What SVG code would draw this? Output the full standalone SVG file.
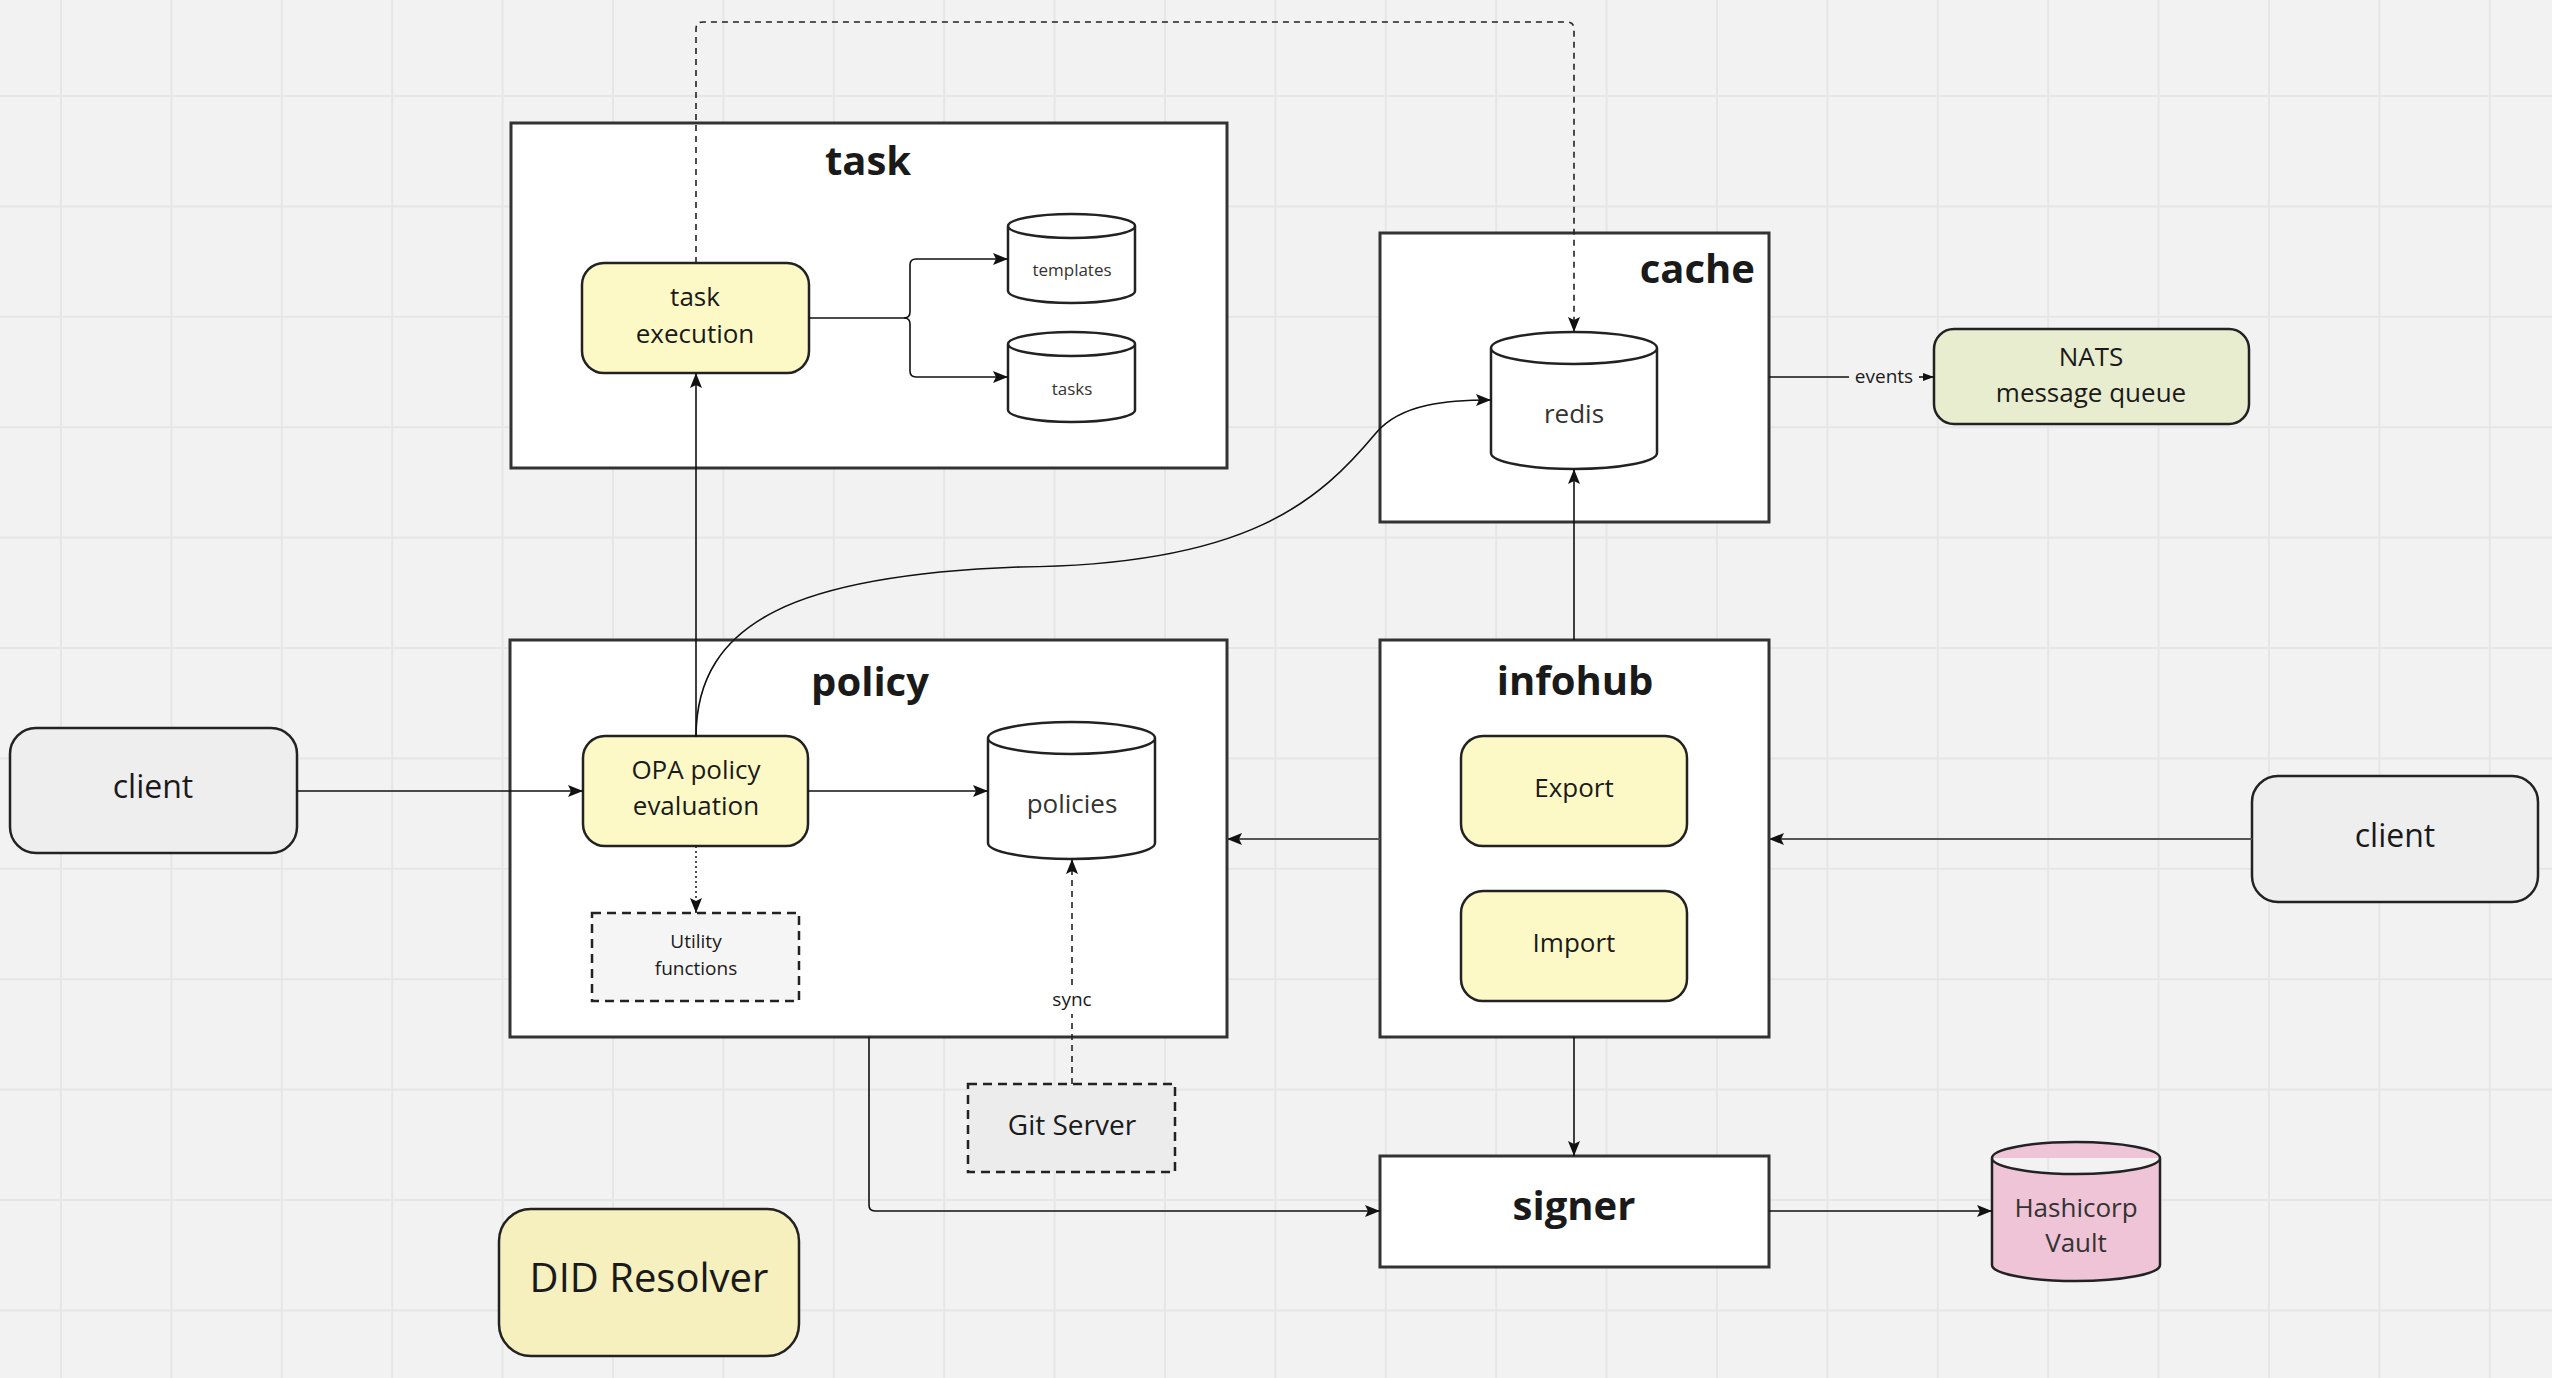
<svg xmlns="http://www.w3.org/2000/svg" width="2552" height="1378" viewBox="0 0 2552 1378">
<defs>
<pattern id="grid" x="60" y="95" width="110.4" height="110.4" patternUnits="userSpaceOnUse">
<path d="M1,0 V110.4 M0,1 H110.4" stroke="#e6e6e6" stroke-width="2" fill="none"/>
</pattern>
<marker id="arr" markerUnits="userSpaceOnUse" markerWidth="16" markerHeight="12" refX="15" refY="6" orient="auto">
<path d="M0,0 L15,6 L0,12 L3,6 z" fill="#111"/>
</marker>
<marker id="arrs" markerUnits="userSpaceOnUse" markerWidth="12" markerHeight="8" refX="11" refY="4" orient="auto">
<path d="M0,0 L11,4 L0,8 z" fill="#111"/>
</marker>
<style>
.box{fill:#fff;stroke:#333;stroke-width:3}
.proc{fill:#fdf9c6;stroke:#222;stroke-width:2.5}
.cyl{fill:#fff;stroke:#222;stroke-width:2.5}
.conn{fill:none;stroke:#111;stroke-width:1.6}
.dash{fill:none;stroke:#222;stroke-width:1.6;stroke-dasharray:6 5}
.dot{fill:none;stroke:#222;stroke-width:1.6;stroke-dasharray:2 3}
.title{font-family:"Open Sans","Liberation Sans",sans-serif;font-weight:bold;font-size:40px;fill:#1a1a1a}
.t26{font-family:"Open Sans","Liberation Sans",sans-serif;font-size:26px;fill:#1a1a1a;text-anchor:middle}
.t17{font-family:"Open Sans","Liberation Sans",sans-serif;font-size:17px;fill:#333;text-anchor:middle}
.t19{font-family:"Open Sans","Liberation Sans",sans-serif;font-size:19px;fill:#1a1a1a;text-anchor:middle}
.cyltext{font-family:"Open Sans","Liberation Sans",sans-serif;font-size:26px;fill:#333;text-anchor:middle}
</style>
</defs>
<rect width="2552" height="1378" fill="#f2f2f2"/>
<rect width="2552" height="1378" fill="url(#grid)"/>

<g id="task">
<rect class="box" x="511" y="123" width="716" height="345"/>
<text class="title" x="868" y="175" text-anchor="middle">task</text>
</g>
<g id="task-execution">
<rect class="proc" x="582" y="263" width="227" height="110" rx="22"/>
<text class="t26" x="695" y="306">task</text>
<text class="t26" x="695" y="343">execution</text>
</g>
<g id="templates">
<path class="cyl" d="M1008,226 A63.5,12 0 0 1 1135,226 V291 A63.5,12 0 0 1 1008,291 Z M1008,226 A63.5,12 0 0 0 1135,226"/>
<text class="t17" x="1072" y="276">templates</text>
</g>
<g id="tasks">
<path class="cyl" d="M1008,344 A63.5,12 0 0 1 1135,344 V410 A63.5,12 0 0 1 1008,410 Z M1008,344 A63.5,12 0 0 0 1135,344"/>
<text class="t17" x="1072" y="395">tasks</text>
</g>

<g id="cache">
<rect class="box" x="1380" y="233" width="389" height="289"/>
<text class="title" x="1755" y="283" text-anchor="end">cache</text>
</g>
<g id="redis">
<path class="cyl" d="M1491,348 A83,16 0 0 1 1657,348 V453 A83,16 0 0 1 1491,453 Z M1491,348 A83,16 0 0 0 1657,348"/>
<text class="cyltext" x="1574" y="423">redis</text>
</g>
<g id="nats">
<rect x="1934" y="329" width="315" height="95" rx="20" fill="#e9edcf" stroke="#222" stroke-width="2.5"/>
<text class="t26" x="2091" y="366">NATS</text>
<text class="t26" x="2091" y="402">message queue</text>
</g>

<g id="policy">
<rect class="box" x="510" y="640" width="717" height="397"/>
<text class="title" x="870" y="696" text-anchor="middle">policy</text>
</g>
<g id="opa">
<rect class="proc" x="583" y="736" width="225" height="110" rx="22"/>
<text class="t26" x="696" y="779">OPA policy</text>
<text class="t26" x="696" y="815">evaluation</text>
</g>
<g id="policies">
<path class="cyl" d="M988,738 A83.5,16 0 0 1 1155,738 V843 A83.5,16 0 0 1 988,843 Z M988,738 A83.5,16 0 0 0 1155,738"/>
<text class="cyltext" x="1072" y="813">policies</text>
</g>
<g id="utility">
<rect x="592" y="913" width="207" height="88" fill="#f5f5f5" stroke="#222" stroke-width="2.5" stroke-dasharray="9 6"/>
<text class="t19" x="696" y="948">Utility</text>
<text class="t19" x="696" y="975">functions</text>
</g>

<g id="client-left">
<rect x="10" y="728" width="287" height="125" rx="26" fill="#eeeeee" stroke="#222" stroke-width="2.5"/>
<text class="t26" x="153" y="798" style="font-size:32px">client</text>
</g>
<g id="client-right">
<rect x="2252" y="776" width="286" height="126" rx="26" fill="#eeeeee" stroke="#222" stroke-width="2.5"/>
<text class="t26" x="2395" y="847" style="font-size:32px">client</text>
</g>

<g id="infohub">
<rect class="box" x="1380" y="640" width="389" height="397"/>
<text class="title" x="1575" y="695" text-anchor="middle">infohub</text>
</g>
<g id="export">
<rect class="proc" x="1461" y="736" width="226" height="110" rx="22"/>
<text class="t26" x="1574" y="797">Export</text>
</g>
<g id="import">
<rect class="proc" x="1461" y="891" width="226" height="110" rx="22"/>
<text class="t26" x="1574" y="952">Import</text>
</g>

<g id="git-server">
<rect x="968" y="1084" width="207" height="88" fill="#ececec" stroke="#222" stroke-width="2.5" stroke-dasharray="9 6"/>
<text class="t26" x="1072" y="1135" style="font-size:28px">Git Server</text>
</g>

<g id="signer">
<rect class="box" x="1380" y="1156" width="389" height="111"/>
<text class="title" x="1574" y="1220" text-anchor="middle">signer</text>
</g>
<g id="vault">
<path d="M1992,1158 A84,16 0 0 1 2160,1158 V1265 A84,16 0 0 1 1992,1265 Z M1992,1158 A84,16 0 0 0 2160,1158" fill="#eec4d6" stroke="#222" stroke-width="2.5"/>
<text class="cyltext" x="2076" y="1217">Hashicorp</text>
<text class="cyltext" x="2076" y="1252">Vault</text>
</g>

<g id="did-resolver">
<rect x="499" y="1209" width="300" height="147" rx="32" fill="#f5f0bd" stroke="#222" stroke-width="2.5"/>
<text class="t26" x="649" y="1292" style="font-size:40px">DID Resolver</text>
</g>

<g id="connectors">
<path class="conn" d="M809,318 H904 Q910,318 910,312 V265 Q910,259 916,259 H1008" marker-end="url(#arr)"/>
<path class="conn" d="M904,318 Q910,318 910,324 V371 Q910,377 916,377 H1008" marker-end="url(#arr)"/>
<path class="dash" d="M696,263 V29 Q696,22 703,22 H1567 Q1574,22 1574,29 V332" marker-end="url(#arr)"/>
<path class="conn" d="M696,736 V373" marker-end="url(#arr)"/>
<path class="conn" d="M696,737 C696,620 800,575 1020,567 C1250,565 1320,500 1376,433 C1401,403 1450,400 1491,400" marker-end="url(#arr)"/>
<path class="conn" d="M297,791 H583" marker-end="url(#arr)"/>
<path class="conn" d="M808,791 H988" marker-end="url(#arr)"/>
<path class="dot" d="M696,846 V913" marker-end="url(#arr)"/>
<path class="dash" d="M1072,1084 V859" marker-end="url(#arr)"/>
<rect x="1046" y="988" width="52" height="26" fill="#fff"/>
<text class="t19" x="1072" y="1006">sync</text>
<path class="conn" d="M1574,640 V469" marker-end="url(#arr)"/>
<path class="conn" d="M1769,377 H1849"/>
<text class="t19" x="1884" y="383">events</text>
<path class="conn" d="M1919,377 H1934" marker-end="url(#arrs)"/>
<path d="M2252,839 H1769" fill="none" stroke="#555" stroke-width="2.2" marker-end="url(#arr)"/>
<path d="M1380,839 H1227" fill="none" stroke="#555" stroke-width="2.2" marker-end="url(#arr)"/>
<path class="conn" d="M869,1037 V1205 Q869,1211 875,1211 H1380" marker-end="url(#arr)"/>
<path class="conn" d="M1574,1037 V1156" marker-end="url(#arr)"/>
<path class="conn" d="M1769,1211 H1992" marker-end="url(#arr)"/>
</g>
</svg>
